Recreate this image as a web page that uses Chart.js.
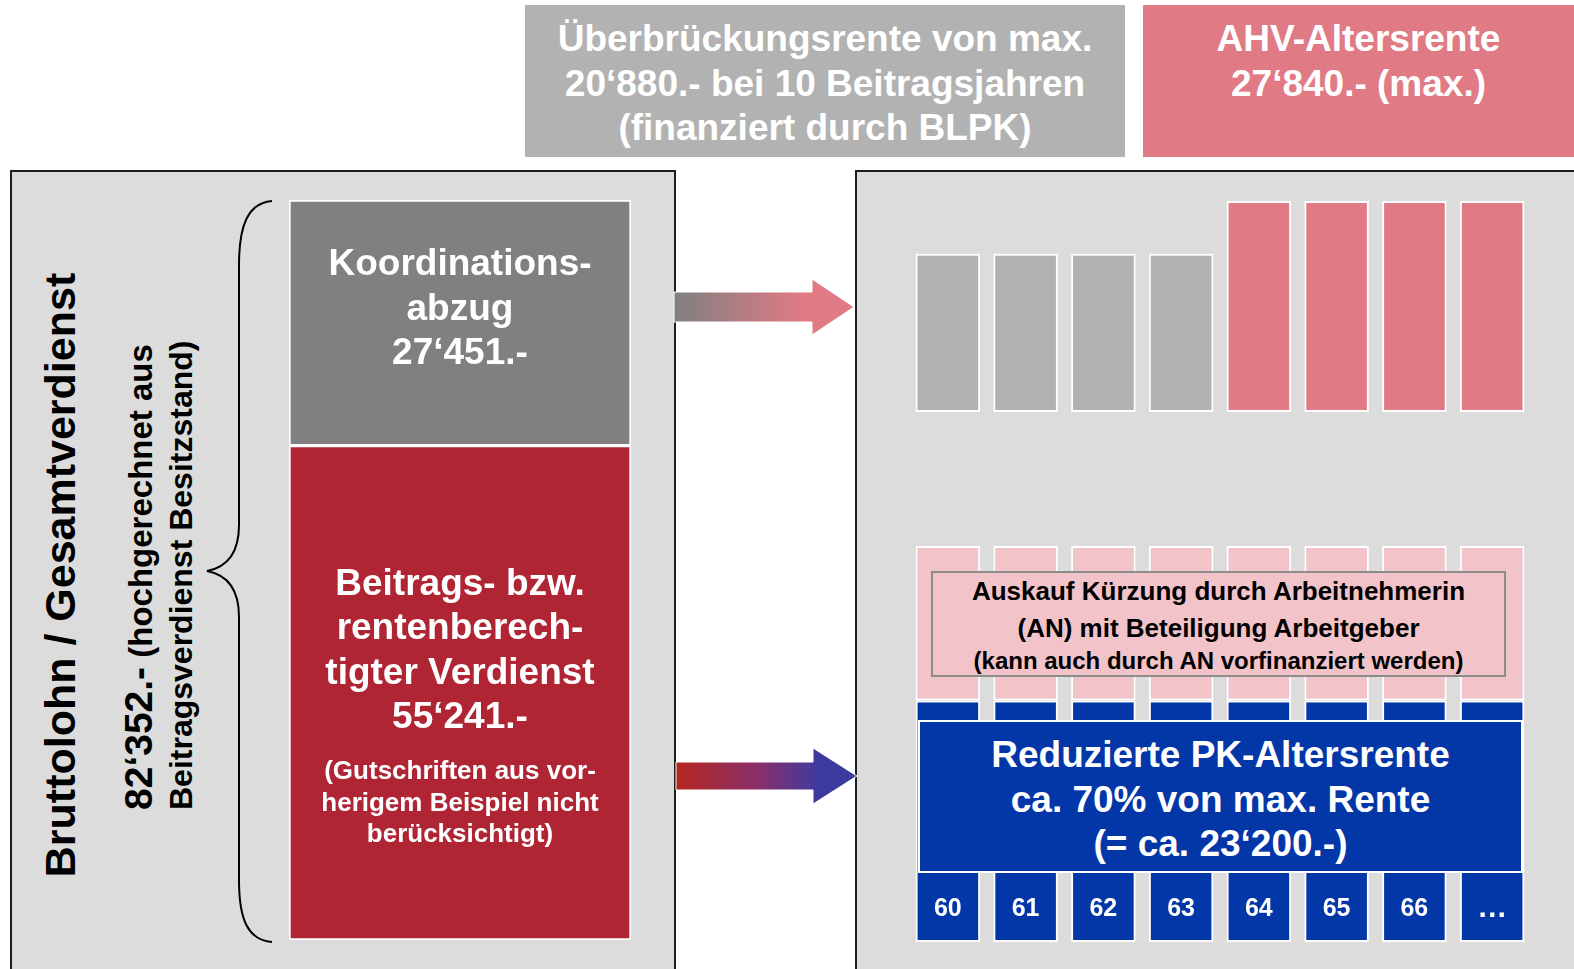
<!DOCTYPE html>
<html lang="de">
<head>
<meta charset="utf-8">
<title>Überbrückungsrente / AHV / PK-Altersrente</title>
<script src="https://cdn.jsdelivr.net/npm/chart.js@4/dist/chart.umd.min.js"></script>
<style>
  body { margin: 0; width: 1574px; height: 969px; overflow: hidden; background: #fff; position: relative;
         font-family: 'Liberation Sans', Arial, Helvetica, sans-serif; font-weight: bold; }
  .abs { position: absolute; }
  .panel { position: absolute; background: #dcdcdc; border: 2px solid #1e1e1e; box-sizing: border-box; }
  .white { color: #fff; text-align: center; }
  .rot { position: absolute; transform: translate(-50%, -50%) rotate(-90deg); white-space: nowrap; color: #000; }
  canvas { position: absolute; }
</style>
</head>
<body>

<!-- Kopfzeilen -->
<div class="abs white" style="left:525px;top:5px;width:600px;height:152px;background:#b2b2b2;font-size:37px;line-height:44.5px;box-sizing:border-box;padding-top:12px;">
  Überbrückungsrente von max.<br>20‘880.- bei 10 Beitragsjahren<br>(finanziert durch BLPK)
</div>
<div class="abs white" style="left:1143px;top:5px;width:431px;height:152px;background:#e07b86;font-size:37px;line-height:44.5px;box-sizing:border-box;padding-top:12px;">
  AHV-Altersrente<br>27‘840.- (max.)
</div>

<!-- Panels -->
<div class="panel" style="left:10px;top:170px;width:666px;height:830px;"></div>
<div class="panel" style="left:855px;top:170px;width:740px;height:830px;"></div>

<!-- Klammer und Pfeile -->
<svg class="abs" style="left:0;top:0" width="1574" height="969">
  <defs>
    <linearGradient id="g1" gradientUnits="userSpaceOnUse" x1="674" y1="0" x2="854" y2="0">
      <stop offset="0" stop-color="#808080"/>
      <stop offset="0.72" stop-color="#e07a84"/>
    </linearGradient>
    <linearGradient id="g2" gradientUnits="userSpaceOnUse" x1="676" y1="0" x2="857" y2="0">
      <stop offset="0" stop-color="#b3261e"/>
      <stop offset="0.45" stop-color="#8a2f6a"/>
      <stop offset="0.8" stop-color="#3d3aa0"/>
    </linearGradient>
  </defs>
  <path d="M272,201 C248,203 239,225 239,265 L239,525 C239,552 228,567 207,571 C228,575 239,590 239,617 L239,880 C239,920 248,940 272,942"
        fill="none" stroke="#000" stroke-width="2"/>
  <polygon points="674,292 812,292 812,279 854,307 812,335 812,322 674,322" fill="url(#g1)" stroke="#fff" stroke-width="1"/>
  <polygon points="676,762 813,762 813,748 857,776 813,804 813,790 676,790" fill="url(#g2)" stroke="#fff" stroke-width="1"/>
</svg>

<!-- Linke Beschriftung (gedreht) -->
<div class="rot" style="left:59.5px;top:575px;font-size:43px;line-height:43px;">Bruttolohn / Gesamtverdienst</div>
<div class="rot" style="left:160px;top:572px;width:476px;font-size:33px;line-height:40px;text-align:left;">
  <span style="font-size:39px;line-height:40px;">82‘352.-</span> (hochgerechnet aus<br><span style="font-size:32px;">Beitragsverdienst Besitzstand)</span>
</div>

<canvas id="chart-lohn" width="342" height="740" style="left:289px;top:200px;"></canvas>
<canvas id="chart-oben" width="622" height="211" style="left:909px;top:201px;"></canvas>
<canvas id="chart-unten" width="622" height="396" style="left:909px;top:546px;"></canvas>

<!-- Texte in der linken Säule -->
<div class="abs white" style="left:289px;top:241px;width:342px;font-size:37px;line-height:44.5px;">
  Koordinations-<br>abzug<br>27‘451.-
</div>
<div class="abs white" style="left:289px;top:561px;width:342px;font-size:37px;line-height:44.3px;">
  Beitrags- bzw.<br>rentenberech-<br>tigter Verdienst<br>55‘241.-
</div>
<div class="abs white" style="left:289px;top:755px;width:342px;font-size:26px;line-height:31.5px;">
  (Gutschriften aus vor-<br>herigem Beispiel nicht<br>berücksichtigt)
</div>

<!-- Boxen rechts -->
<div class="abs" style="left:931px;top:571px;width:575px;height:106px;box-sizing:border-box;border:2px solid #8c8c8c;background:#f2c3c9;color:#000;text-align:center;">
  <div style="font-size:26px;line-height:36px;">Auskauf Kürzung durch Arbeitnehmerin</div>
  <div style="font-size:26px;line-height:38px;">(AN) mit Beteiligung Arbeitgeber</div>
  <div style="font-size:24px;line-height:28px;">(kann auch durch AN vorfinanziert werden)</div>
</div>
<div class="abs white" style="left:918px;top:720px;width:605px;height:153px;box-sizing:border-box;border:2px solid #fff;background:#0336a7;font-size:37px;line-height:44.5px;padding-top:11px;">
  Reduzierte PK-Altersrente<br>ca. 70% von max. Rente<br>(= ca. 23‘200.-)
</div>

<script>
// Linke Säule: Bruttolohn aufgeteilt
const lohnLabel = ['Bruttolohn'];
const versicherterVerdienst = [55241];
const koordinationsabzug = [27451];

// Rechte Säulen: Alter 60 bis ...
const alter = ['60', '61', '62', '63', '64', '65', '66', '…'];
const ueberbrueckungsrente = [20880, 20880, 20880, 20880, null, null, null, null];
const ahvRente = [null, null, null, null, 27840, 27840, 27840, 27840];
// relative Höhen
const pkRente = [61, 61, 61, 61, 61, 61, 61, 61];
const auskauf = [39, 39, 39, 39, 39, 39, 39, 39];

const C = {
  grau: '#808080', rot: '#b02533', hellgrau: '#b2b2b2', ahv: '#e07b86',
  rosa: '#f2c3c9', blau: '#0336a7'
};

const barStyle = { borderColor: '#fff', borderWidth: 2, borderSkipped: false, borderRadius: 0 };

function baseOptions(max, barPct) {
  return {
    responsive: false, animation: false, devicePixelRatio: 1,
    layout: { padding: 0 },
    plugins: { legend: { display: false }, tooltip: { enabled: false } },
    datasets: { bar: { categoryPercentage: 1, barPercentage: barPct } },
    scales: {
      x: { stacked: true, display: false },
      y: { stacked: true, display: false, min: 0, max: max }
    }
  };
}

new Chart(document.getElementById('chart-lohn'), {
  type: 'bar',
  data: {
    labels: lohnLabel,
    datasets: [
      { label: 'Beitrags- bzw. rentenberechtigter Verdienst', data: versicherterVerdienst, backgroundColor: C.rot, ...barStyle },
      { label: 'Koordinationsabzug', data: koordinationsabzug, backgroundColor: C.grau, ...barStyle }
    ]
  },
  options: baseOptions(versicherterVerdienst[0] + koordinationsabzug[0], 1)
});

new Chart(document.getElementById('chart-oben'), {
  type: 'bar',
  data: {
    labels: alter,
    datasets: [
      { label: 'Überbrückungsrente', data: ueberbrueckungsrente, backgroundColor: C.hellgrau, ...barStyle },
      { label: 'AHV-Altersrente', data: ahvRente, backgroundColor: C.ahv, ...barStyle }
    ]
  },
  options: baseOptions(Math.max(...ahvRente.filter(v => v !== null), ...ueberbrueckungsrente.filter(v => v !== null)), 0.83)
});

const unten = new Chart(document.getElementById('chart-unten'), {
  type: 'bar',
  data: {
    labels: alter,
    datasets: [
      { label: 'Reduzierte PK-Altersrente', data: pkRente, backgroundColor: C.blau, ...barStyle },
      { label: 'Auskauf Kürzung', data: auskauf, backgroundColor: C.rosa, ...barStyle }
    ]
  },
  options: baseOptions(pkRente[0] + auskauf[0], 0.83)
});

// Alters-Beschriftung unten in den blauen Säulen
const xs = unten.scales.x;
const left0 = 909;
alter.forEach((a, i) => {
  const d = document.createElement('div');
  d.className = 'abs white';
  const extra = a === '…' ? 'font-size:30px;' : 'font-size:25px;';
  d.style.cssText = `left:${left0 + xs.getPixelForValue(i) - 40}px;top:892px;width:80px;line-height:30px;${extra}`;
  d.textContent = a;
  document.body.appendChild(d);
});
</script>
</body>
</html>
